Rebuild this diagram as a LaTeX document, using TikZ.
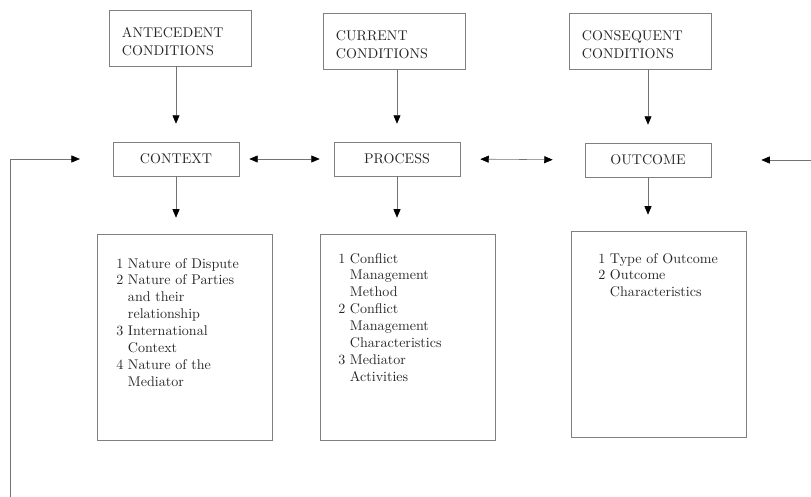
\documentclass[tikz,border=0pt]{standalone}
\usetikzlibrary{arrows.meta}
\begin{document}
\begin{tikzpicture}[x=0.025cm, y=-0.025cm,
    font=\fontsize{10}{12}\selectfont, text=black!85,
    condbox/.style={draw=black!50, thin, minimum width=3.55cm, minimum height=1.4cm,
        text width=2.9cm, align=left, inner xsep=0.32cm, text height=13pt,
        font=\fontsize{10}{12.8}\selectfont},
    stagebox/.style={draw=black!50, thin, minimum width=3.15cm, minimum height=0.85cm},
    listbox/.style={draw=black!50, thin, minimum width=4.375cm, minimum height=5.15cm},
    itemtext/.style={anchor=north west, inner sep=0pt},
    arr/.style={draw=black!55, thin, -{Triangle[length=6pt, width=5pt, color=black]}},
    darr/.style={draw=black!55, thin,
        {Triangle[length=6pt, width=5pt, color=black]}-{Triangle[length=6pt, width=5pt, color=black]}}]

    % Frame of the page
    \useasboundingbox (0,0) rectangle (811,497);

    % Conditions
    \node[condbox] (ante) at (180,38)  {ANTECEDENT\\CONDITIONS};
    \node[condbox] (curr) at (394,41)  {CURRENT\\CONDITIONS};
    \node[condbox] (cons) at (640,41)  {CONSEQUENT\\CONDITIONS};

    % Stages
    \node[stagebox] (ctx)  at (176,159) {CONTEXT};
    \node[stagebox] (proc) at (397,159) {PROCESS};
    \node[stagebox] (outc) at (648,160) {OUTCOME};

    % Lists
    \node[listbox] (ctxlist)  at (185,337) {};
    \node[listbox] (proclist) at (408,337) {};
    \node[listbox] (outclist) at (659,334) {};

    \node[itemtext] (ctxitems) at (116,256) {%
        \begin{tabular}{@{}l@{\ }l@{}}
        1 & Nature of Dispute\\
        2 & Nature of Parties\\
          & and their\\
          & relationship\\
        3 & International\\
          & Context\\
        4 & Nature of the\\
          & Mediator
        \end{tabular}};
    \node[itemtext] (procitems) at (338,251) {%
        \begin{tabular}{@{}l@{\ }l@{}}
        1 & Conflict\\
          & Management\\
          & Method\\
        2 & Conflict\\
          & Management\\
          & Characteristics\\
        3 & Mediator\\
          & Activities
        \end{tabular}};
    \node[itemtext] (outcitems) at (598,251) {%
        \begin{tabular}{@{}l@{\ }l@{}}
        1 & Type of Outcome\\
        2 & Outcome\\
          & Characteristics
        \end{tabular}};

    % Conditions feed the stages
    \foreach \c/\s in {ante/ctx, curr/proc, cons/outc}
        \draw[arr, shorten >=0.45cm] (\s |- \c.south) -- (\s.north);

    % Stages feed the lists
    \foreach \s/\l in {ctx/ctxlist, proc/proclist, outc/outclist}
        \draw[arr, shorten >=0.4cm] (\s.south) -- (\s.south |- \l.north);

    % Links between stages
    \draw[darr, shorten <=0.25cm, shorten >=0.35cm] (ctx.east) -- (proc.west);
    \draw[darr, shorten <=0.5cm, shorten >=0.8cm] (proc.east) -- (outc.west);

    % Feedback lines
    \coordinate (loopl) at (10,497);
    \coordinate (loopr) at (811,160);
    \draw[arr, shorten >=0.82cm] (loopl) |- (ctx.west);
    \draw[arr, shorten >=1.25cm] (loopr) -- (outc.east);
\end{tikzpicture}
\end{document}
